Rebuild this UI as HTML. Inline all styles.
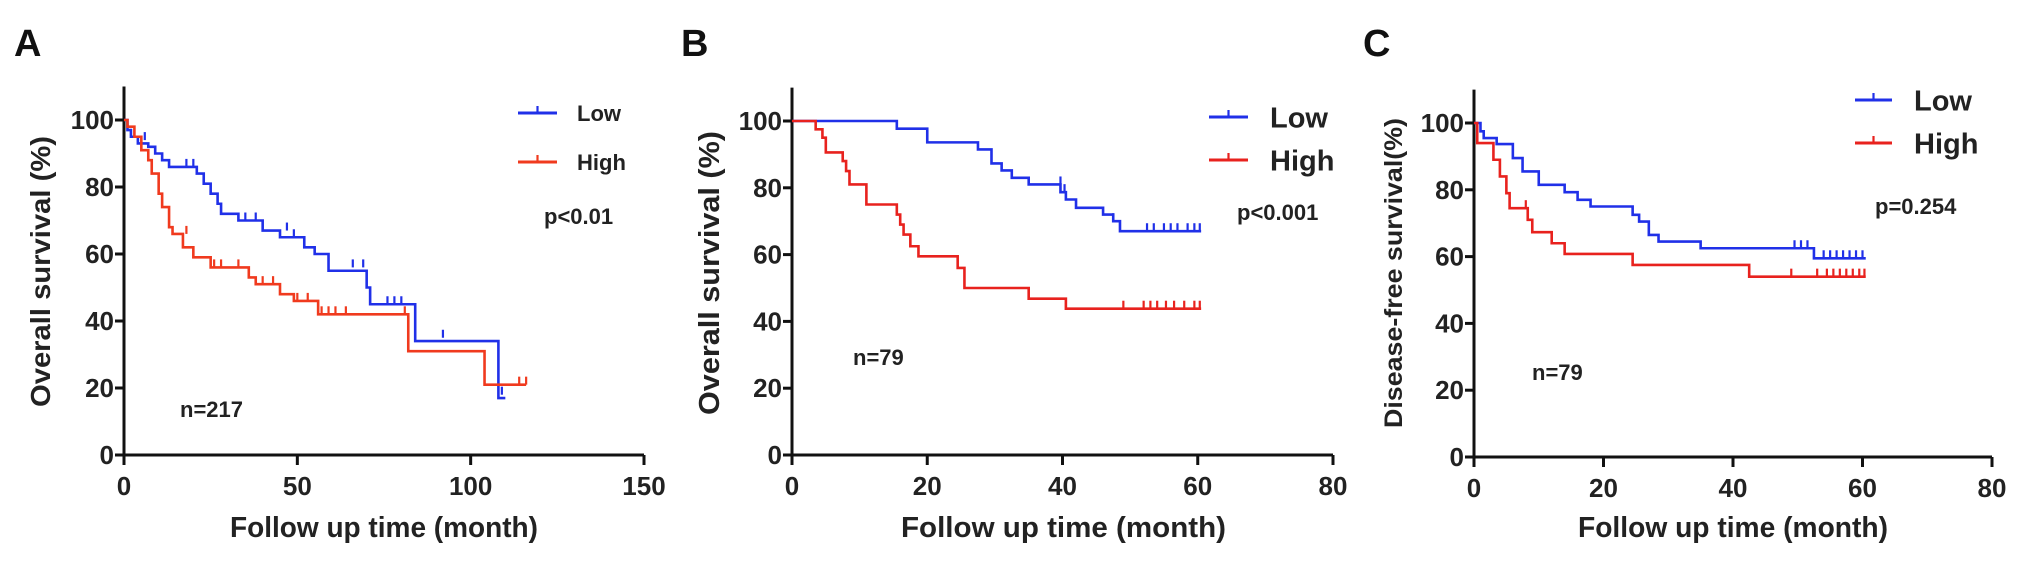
<!DOCTYPE html>
<html><head><meta charset="utf-8"><style>
html,body{margin:0;padding:0;background:#fff;}
svg{display:block;font-family:"Liberation Sans",Arial,sans-serif;}
</style></head><body>
<svg id="fig" width="2031" height="583" viewBox="0 0 2031 583"></svg>
<script>
// ---------- data ----------
const aLowSteps=[[0,100],[1,97],[2,95],[4,93],[7,92],[9,90],[11,88],[13,86],[21,84],[23,81],[25,78],[27,75],[28,72],[33,70],[40,67],[45,65],[52,62],[55,60],[59,55],[70,50],[71,45],[84,34],[108,17]];
const aLowEnd=110;
const aLowCens=[[6,94],[18,86],[20,86],[35,70],[38,70],[47,67],[49,65],[66,56],[69,56],[76,45],[78,45],[80,45],[92,35],[109,18]];
const aHighSteps=[[0,100],[1,98],[3,95],[5,91],[7,88],[8,84],[10,78],[11,74],[13,68],[14,66],[17,62],[20,59],[25,56],[36,53],[38,51],[45,48],[49,46],[56,42],[82,31],[104,21]];
const aHighEnd=116;
const aHighCens=[[18,66],[26,56],[28,56],[33,56],[40,51],[43,51],[50,46],[53,46],[57,42],[59,42],[61,42],[64,42],[81,42],[114,21],[116,21]];

const bLowSteps=[[0,100],[15.5,97.7],[20,93.6],[27.5,91.5],[29.5,87.3],[31,85.2],[32.5,83],[35,81],[39.7,78.7],[40.5,76.5],[42,74],[46,72],[47.5,70],[48.5,67]];
const bLowEnd=60.5;
const bLowCens=[[39.7,81],[40.3,78.7],[47.5,70],[52.5,67],[53.5,67],[55,67],[56,67],[57,67],[58.5,67],[59.5,67],[60.3,67]];
const bHighSteps=[[0,100],[3.5,97.5],[4.5,95],[5,90.6],[7.5,88],[8,85],[8.5,81],[11,75],[15.5,72],[16,69],[16.5,66],[17.5,62.5],[18.7,59.5],[24.5,56],[25.5,50],[35,46.8],[40.5,43.8]];
const bHighEnd=60.5;
const bHighCens=[[49,43.8],[52,43.8],[53,43.8],[54,43.8],[55.3,43.8],[56.5,43.8],[58,43.8],[59.5,43.8],[60.3,43.8]];

const cLowSteps=[[0,100],[1,97.5],[1.5,95.5],[3.5,93.7],[6,89.5],[7.5,85.5],[10,81.5],[14,79.3],[16,77],[18,75],[24.5,72.5],[25.5,70.5],[27,66.5],[28.5,64.5],[35,62.5],[52.5,59.5]];
const cLowEnd=60.5;
const cLowCens=[[49.5,62.5],[50.5,62.5],[51.5,62.5],[54,59.5],[55,59.5],[56,59.5],[57,59.5],[58,59.5],[59,59.5],[60,59.5]];
const cHighSteps=[[0,100],[0.5,94],[3,89],[4,84],[5,79],[5.5,74.5],[8.3,71],[9,67.3],[12,64],[14,60.8],[24.5,57.5],[42.5,54]];
const cHighEnd=60.5;
const cHighCens=[[8,74.5],[49,54],[53,54],[54.5,54],[55.5,54],[56.5,54],[57.5,54],[58.5,54],[59.5,54],[60.3,54]];

const aXTicks=[0,50,100,150];
const bXTicks=[0,20,40,60,80];
const cXTicks=[0,20,40,60,80];
const yTicks=[0,20,40,60,80,100];

// ---------- drawing ----------
const NS="http://www.w3.org/2000/svg";
const svg=document.getElementById('fig');
function mk(tag,attrs,parent,text){
  const e=document.createElementNS(NS,tag);
  for(const k in attrs)e.setAttribute(k,attrs[k]);
  if(text!==undefined)e.textContent=text;
  (parent||svg).appendChild(e);return e;
}
function panel(cfg){
  const g=mk('g',{});
  
  
  const sx=v=>cfg.x0+(v-0)/(cfg.xmax)*(cfg.x1-cfg.x0);
  const sy=v=>cfg.y0-(v/100)*(cfg.y0-cfg.y100);
  // letter
  const L=mk('text',{x:cfg.letterX,y:56,'font-size':38,'font-weight':'bold',fill:'#111'},g,cfg.letter);
  
  
  // axes
  const ax=mk('path',{d:`M${cfg.x0},${sy(110)} L${cfg.x0},${cfg.y0} L${cfg.x1},${cfg.y0}`,stroke:'#111','stroke-width':3,fill:'none'},g);
  
  
  for(const t of yTicks){
    const y=sy(t);
    mk('line',{x1:cfg.x0-9,x2:cfg.x0,y1:y,y2:y,stroke:'#111','stroke-width':3},g);
    const tl=mk('text',{x:cfg.x0-10,y:y+9,'font-size':26,'text-anchor':'end',fill:'#222','font-weight':'bold'},g,String(t));
    
    
  }
  for(const t of cfg.xTicks){
    const x=sx(t);
    mk('line',{x1:x,x2:x,y1:cfg.y0,y2:cfg.y0+10,stroke:'#111','stroke-width':3},g);
    const tl=mk('text',{x:x,y:cfg.y0+40,'font-size':26,'text-anchor':'middle',fill:'#222','font-weight':'bold'},g,String(t));
    
    
  }
  const xt=mk('text',{x:cfg.xtX,y:537,'font-size':29,'font-weight':'bold',fill:'#222',textLength:cfg.xtW,lengthAdjust:'spacingAndGlyphs'},g,'Follow up time (month)');
  
  
  const yc=(cfg.ytTop+cfg.ytBot)/2;
  const yt=mk('text',{x:0,y:0,'font-size':cfg.ytFs,'font-weight':'bold',fill:'#222','text-anchor':'middle',textLength:cfg.ytBot-cfg.ytTop,lengthAdjust:'spacingAndGlyphs',transform:`translate(${cfg.ytX},${yc}) rotate(-90)`},g,cfg.ytText);
  
  
  // series
  function series(steps,end,cens,color,name){
    let d=`M${sx(steps[0][0])},${sy(steps[0][1])}`;
    for(let i=1;i<steps.length;i++){
      d+=` L${sx(steps[i][0])},${sy(steps[i-1][1])} L${sx(steps[i][0])},${sy(steps[i][1])}`;
    }
    d+=` L${sx(end)},${sy(steps[steps.length-1][1])}`;
    const p=mk('path',{d:d,stroke:color,'stroke-width':2.6,fill:'none'},g);
    
    
    for(const c of cens){
      const x=sx(c[0]),y=sy(c[1]);
      const m=mk('line',{x1:x,x2:x,y1:y,y2:y-8,stroke:color,'stroke-width':2.2},g);
      
      
    }
  }
  series(cfg.low[0],cfg.low[1],cfg.low[2],'#2030e8','low');
  series(cfg.high[0],cfg.high[1],cfg.high[2],cfg.highColor,'high');
  // legend
  const lg=mk('g',{},g);
  
  
  [['Low',cfg.legLowY,'#2030e8'],['High',cfg.legHighY,cfg.highColor]].forEach(r=>{
    mk('line',{x1:cfg.legX1,x2:cfg.legX2,y1:r[1],y2:r[1],stroke:r[2],'stroke-width':3},lg);
    const mx=(cfg.legX1+cfg.legX2)/2;
    mk('line',{x1:mx,x2:mx,y1:r[1],y2:r[1]-7,stroke:r[2],'stroke-width':2.2},lg);
    const t=mk('text',{x:cfg.legTX,y:r[1]+cfg.legFs*0.36,'font-size':cfg.legFs,'font-weight':'bold',fill:'#222'},lg,r[0]);
    
    
  });
  const pv=mk('text',{x:cfg.pX,y:cfg.pY+8,'font-size':cfg.pFs,'font-weight':'bold',fill:'#222'},g,cfg.pText);
  
  
  const nv=mk('text',{x:cfg.nX,y:cfg.nY+8,'font-size':22,'font-weight':'bold',fill:'#222'},g,cfg.nText);
  
  
}
panel({id:'a',letter:'A',letterX:14,x0:124,x1:644,xmax:150,y0:455,y100:120,xTicks:aXTicks,
  xtX:230,xtW:308,ytX:50,ytTop:136,ytBot:407,ytFs:28,ytText:'Overall survival (%)',
  low:[aLowSteps,aLowEnd,aLowCens],high:[aHighSteps,aHighEnd,aHighCens],highColor:'#f03a1e',
  legX1:518,legX2:557,legTX:577,legLowY:113,legHighY:162,legFs:22,
  pX:544,pY:216,pFs:22,pText:'p<0.01',nX:180,nY:409,nText:'n=217'});
panel({id:'b',letter:'B',letterX:681,x0:792,x1:1333,xmax:80,y0:455,y100:121,xTicks:bXTicks,
  xtX:901,xtW:325,ytX:719,ytTop:131,ytBot:415,ytFs:29,ytText:'Overall survival (%)',
  low:[bLowSteps,bLowEnd,bLowCens],high:[bHighSteps,bHighEnd,bHighCens],highColor:'#e8221e',
  legX1:1209,legX2:1248,legTX:1270,legLowY:117,legHighY:160,legFs:29,
  pX:1237,pY:212,pFs:22,pText:'p<0.001',nX:853,nY:357,nText:'n=79'});
panel({id:'c',letter:'C',letterX:1363,x0:1474,x1:1992,xmax:80,y0:457,y100:123,xTicks:cXTicks,
  xtX:1578,xtW:310,ytX:1402,ytTop:118,ytBot:428,ytFs:25,ytText:'Disease-free survival(%)',
  low:[cLowSteps,cLowEnd,cLowCens],high:[cHighSteps,cHighEnd,cHighCens],highColor:'#e8221e',
  legX1:1855,legX2:1892,legTX:1914,legLowY:100,legHighY:143,legFs:29,
  pX:1875,pY:206,pFs:22,pText:'p=0.254',nX:1532,nY:372,nText:'n=79'});
</script>
</body></html>
